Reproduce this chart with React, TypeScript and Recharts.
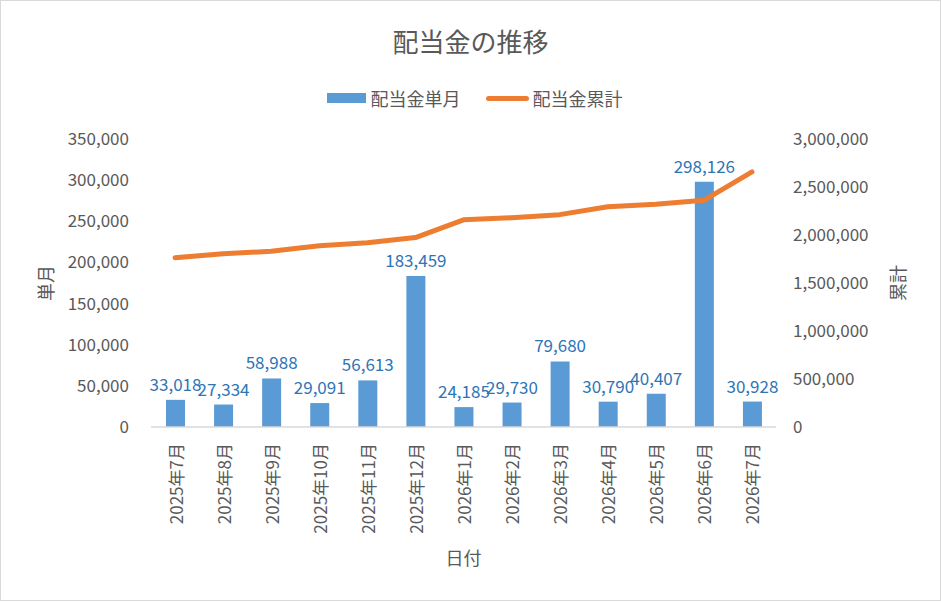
import { Bar, ComposedChart, LabelList, Line, XAxis, YAxis } from "recharts";

const months = [
  "2025年7月", "2025年8月", "2025年9月", "2025年10月", "2025年11月", "2025年12月",
  "2026年1月", "2026年2月", "2026年3月", "2026年4月", "2026年5月", "2026年6月", "2026年7月",
];
const monthly = [33018, 27334, 58988, 29091, 56613, 183459, 24185, 29730, 79680, 30790, 40407, 298126, 30928];
const cumulative = [
  1764000, 1805000, 1830000, 1888000, 1920000, 1973000,
  2158000, 2180000, 2212000, 2294000, 2320000, 2361000, 2657000,
];
const leftTicks = [0, 50000, 100000, 150000, 200000, 250000, 300000, 350000];
const rightTicks = [0, 500000, 1000000, 1500000, 2000000, 2500000, 3000000];

const data = months.map((m, i) => ({ month: m, single: monthly[i], total: cumulative[i] }));

const FONT = "'Noto Sans CJK JP', 'Noto Sans', sans-serif";
const TEXT = "#595959";
const BLUE = "#5B9BD5";
const ORANGE = "#ED7D31";

const fmt = (v: number) => v.toLocaleString("en-US");

function MonthTick(props: any) {
  const { x, y, payload } = props;
  return (
    <text
      transform={`translate(${x},${y}) rotate(-90)`}
      textAnchor="end"
      dominantBaseline="central"
      fill={TEXT}
      fontSize={17}
      fontFamily={FONT}
    >
      {payload.value}
    </text>
  );
}

function AxisTitle({ viewBox, text, dx }: any) {
  const cx = viewBox.x + dx;
  const cy = viewBox.y + viewBox.height / 2;
  return (
    <text
      transform={`translate(${cx},${cy}) rotate(-90)`}
      textAnchor="middle"
      dominantBaseline="central"
      fill={TEXT}
      fontSize={18}
      fontFamily={FONT}
    >
      {text}
    </text>
  );
}

export default function App() {
  return (
    <div style={{ position: "fixed", left: 0, top: 0, width: 941, height: 602, background: "#fff", fontFamily: FONT }}>
      <div
        style={{
          position: "absolute", left: 0, top: 0, width: 941, height: 601,
          border: "1px solid #D9D9D9", boxSizing: "border-box",
        }}
      />
      <div style={{ position: "absolute", left: 0, top: 22, width: 941, textAlign: "center", fontSize: 26, color: TEXT }}>
        配当金の推移
      </div>
      <div
        style={{
          position: "absolute", left: 0, top: 85, width: 949, display: "flex",
          justifyContent: "center", alignItems: "center", fontSize: 18, color: TEXT,
        }}
      >
        <span style={{ display: "inline-block", width: 39, height: 10, background: BLUE, marginRight: 5 }} />
        <span>配当金単月</span>
        <span
          style={{
            display: "inline-block", width: 43, height: 5, borderRadius: 3, background: ORANGE,
            marginLeft: 25, marginRight: 4,
          }}
        />
        <span>配当金累計</span>
      </div>
      <div style={{ position: "absolute", left: 0, top: 0 }}>
        <ComposedChart width={941} height={602} data={data} margin={{ top: 139, right: 0, bottom: 0, left: 0 }}>
          <XAxis
            dataKey="month"
            height={175}
            interval={0}
            tickSize={0}
            tickMargin={16}
            tick={<MonthTick />}
            axisLine={{ stroke: "#D9D9D9", strokeWidth: 1.5 }}
            label={{
              position: "insideBottom",
              content: (p: any) => (
                <text
                  x={p.viewBox.x + p.viewBox.width / 2}
                  y={p.viewBox.y + 130}
                  textAnchor="middle"
                  dominantBaseline="central"
                  fill={TEXT}
                  fontSize={18}
                  fontFamily={FONT}
                >
                  日付
                </text>
              ),
            }}
          />
          <YAxis
            yAxisId="left"
            width={151}
            domain={[0, 350000]}
            ticks={leftTicks}
            tickFormatter={fmt}
            axisLine={false}
            tickLine={false}
            tickSize={0}
            tickMargin={22}
            tick={{ fill: TEXT, fontSize: 17, fontFamily: FONT }}
            label={{ content: (p: any) => <AxisTitle viewBox={p.viewBox} text="単月" dx={45} /> }}
          />
          <YAxis
            yAxisId="right"
            orientation="right"
            width={165}
            domain={[0, 3000000]}
            ticks={rightTicks}
            tickFormatter={fmt}
            axisLine={false}
            tickLine={false}
            tickSize={0}
            tickMargin={17}
            tick={{ fill: TEXT, fontSize: 17, fontFamily: FONT, textAnchor: "start" }}
            label={{ content: (p: any) => <AxisTitle viewBox={p.viewBox} text="累計" dx={121} /> }}
          />
          <Bar yAxisId="left" dataKey="single" fill={BLUE} barSize={19} isAnimationActive={false}>
            <LabelList
              dataKey="single"
              position="top"
              offset={9}
              formatter={(v: any) => fmt(Number(v))}
              fill="#2E75B6"
              fontSize={17}
              fontFamily={FONT}
            />
          </Bar>
          <Line
            yAxisId="right"
            dataKey="total"
            stroke={ORANGE}
            strokeWidth={5}
            strokeLinecap="round"
            strokeLinejoin="round"
            dot={false}
            activeDot={false}
            isAnimationActive={false}
          />
        </ComposedChart>
      </div>
    </div>
  );
}
